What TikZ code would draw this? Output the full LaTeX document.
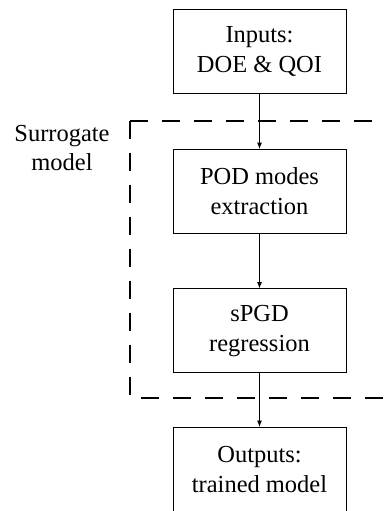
\documentclass[tikz,border=0pt]{standalone}
\usepackage{fontspec}
\setmainfont{Liberation Serif}
\usetikzlibrary{positioning,arrows.meta}
\tikzset{
  block/.style={draw, line width=0.7pt, minimum width=4.325cm, minimum height=2.1cm,
    align=center, font=\fontsize{17.4}{21.4}\selectfont},
  flow/.style={-{Latex[length=4.5pt,width=3.5pt]}, line width=0.6pt},
  surr/.style={dash pattern=on 0.45cm off 0.35cm, line width=0.75pt}
}
\begin{document}
\begin{tikzpicture}
\clip (0,0) rectangle (9.6,-12.775);
% blocks
\node[block] (inp) at (6.4875,-1.2875) {Inputs:\\DOE \& QOI};
\node[block, below=1.375cm of inp] (pod) {POD modes\\extraction};
\node[block, below=1.3625cm of pod] (spgd) {sPGD\\regression};
\node[block, below=1.3375cm of spgd] (out) {Outputs:\\trained model};
% surrogate frame
\coordinate (tl) at (3.25,-3.025);
\coordinate (bl) at (3.25,-9.95);
\coordinate (tr) at (10.2,-3.025);
\coordinate (br) at (10.2,-9.95);
\draw[surr] (tl) -- (tr);
\draw[surr] (tl) -- (bl) -- (br);
\node[align=center, font=\fontsize{17.4}{21}\selectfont] (surlbl) at (1.55,-3.7) {Surrogate\\model};
% arrows
\draw[flow] (inp) -- (pod);
\draw[flow] (pod) -- (spgd);
\draw[flow] (spgd) -- (out);
\end{tikzpicture}
\end{document}
